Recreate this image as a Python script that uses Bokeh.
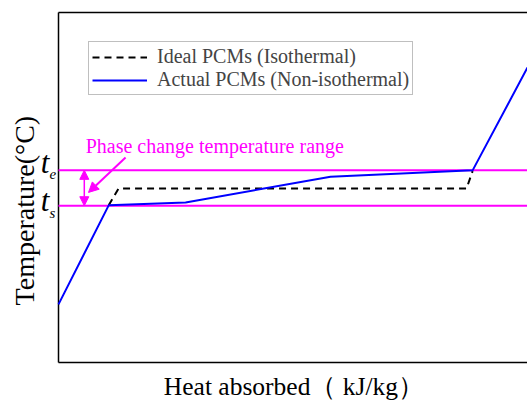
import math
from bokeh.plotting import figure
from bokeh.models import Range1d, Label, Arrow, NormalHead, Legend, LegendItem
from bokeh.embed import file_html
from bokeh.resources import INLINE

# Data (arbitrary units)
actual_x = [0, 10.7, 27.1, 58.0, 88.3, 100]
actual_y = [16.6, 44.9, 45.7, 53.1, 54.9, 84.3]
ideal_x = [10.7, 12.8, 87.0, 88.3]
ideal_y = [44.9, 49.7, 49.7, 54.7]
t_e = 54.9
t_s = 44.8
x_min, x_max = 0, 100
y_min, y_max = 0, 100

SERIF = "Liberation Serif"
MAGENTA = "#FF00FF"

p = figure(width=527, height=401, output_backend="svg", toolbar_location=None,
           x_range=Range1d(-12.367, x_max), y_range=Range1d(-11.14, 103.43),
           x_axis_location=None, y_axis_location=None,
           min_border_left=0, min_border_right=0, min_border_top=0, min_border_bottom=0)
p.outline_line_color = None
p.grid.visible = False
p.background_fill_color = "white"

# axis frame lines: left, bottom, top
p.segment(x0=[x_min, x_min, x_min], y0=[y_min, y_min, y_max],
          x1=[x_min, x_max, x_max], y1=[y_max, y_min, y_max],
          line_color="black", line_width=1.5)

# axis titles
p.add_layout(Label(x=50.2, y=-6.9, text="Heat absorbed（ kJ/kg）",
                   text_font=SERIF, text_font_size="25.5px", text_color="black",
                   text_align="center", text_baseline="middle"))
p.add_layout(Label(x=-7.2, y=43.4, text="Temperature(°C)", angle=math.pi / 2,
                   text_font=SERIF, text_font_size="28px", text_color="black",
                   text_align="center", text_baseline="middle"))

# phase-change range lines
p.segment(x0=[x_min, x_min], y0=[t_e, t_s], x1=[x_max, x_max], y1=[t_e, t_s],
          line_color=MAGENTA, line_width=2)

r_ideal = p.line(ideal_x, ideal_y, line_color="black", line_width=2, line_dash="7 5")
r_actual = p.line(actual_x, actual_y, line_color="#0000FF", line_width=2)

# arrows
p.add_layout(Arrow(x_start=5.5, y_start=t_e, x_end=5.5, y_end=t_s,
                   line_color=MAGENTA, line_width=1.5,
                   start=NormalHead(size=9, fill_color=MAGENTA, line_color=MAGENTA),
                   end=NormalHead(size=9, fill_color=MAGENTA, line_color=MAGENTA)))
p.add_layout(Arrow(x_start=14.3, y_start=58.6, x_end=6.4, y_end=48.6,
                   line_color=MAGENTA, line_width=2,
                   end=NormalHead(size=10, fill_color=MAGENTA, line_color=MAGENTA)))

p.add_layout(Label(x=5.8, y=62.0, text="Phase change temperature range",
                   text_font=SERIF, text_font_size="20px", text_color=MAGENTA,
                   text_baseline="middle"))

# t_e / t_s labels
for txt, x, y, size in [("t", -3.8, 57.1, "31px"), ("e", -1.9, 53.8, "15px"),
                        ("t", -3.8, 46.3, "31px"), ("s", -1.9, 42.6, "15px")]:
    p.add_layout(Label(x=x, y=y, text=txt, text_font=SERIF, text_font_style="italic",
                       text_font_size=size, text_color="black", text_baseline="alphabetic"))

legend = Legend(items=[LegendItem(label="Ideal PCMs (Isothermal)", renderers=[r_ideal]),
                       LegendItem(label="Actual PCMs (Non-isothermal)", renderers=[r_actual])],
                location=(88, 306), padding=3, spacing=0, margin=0,
                glyph_width=55, glyph_height=16, label_height=16, label_standoff=10,
                label_text_font=SERIF, label_text_font_size="20px",
                border_line_color="#808080", border_line_width=1.2,
                background_fill_alpha=1)
p.add_layout(legend)

open("out.html", "w").write(file_html(p, INLINE))
